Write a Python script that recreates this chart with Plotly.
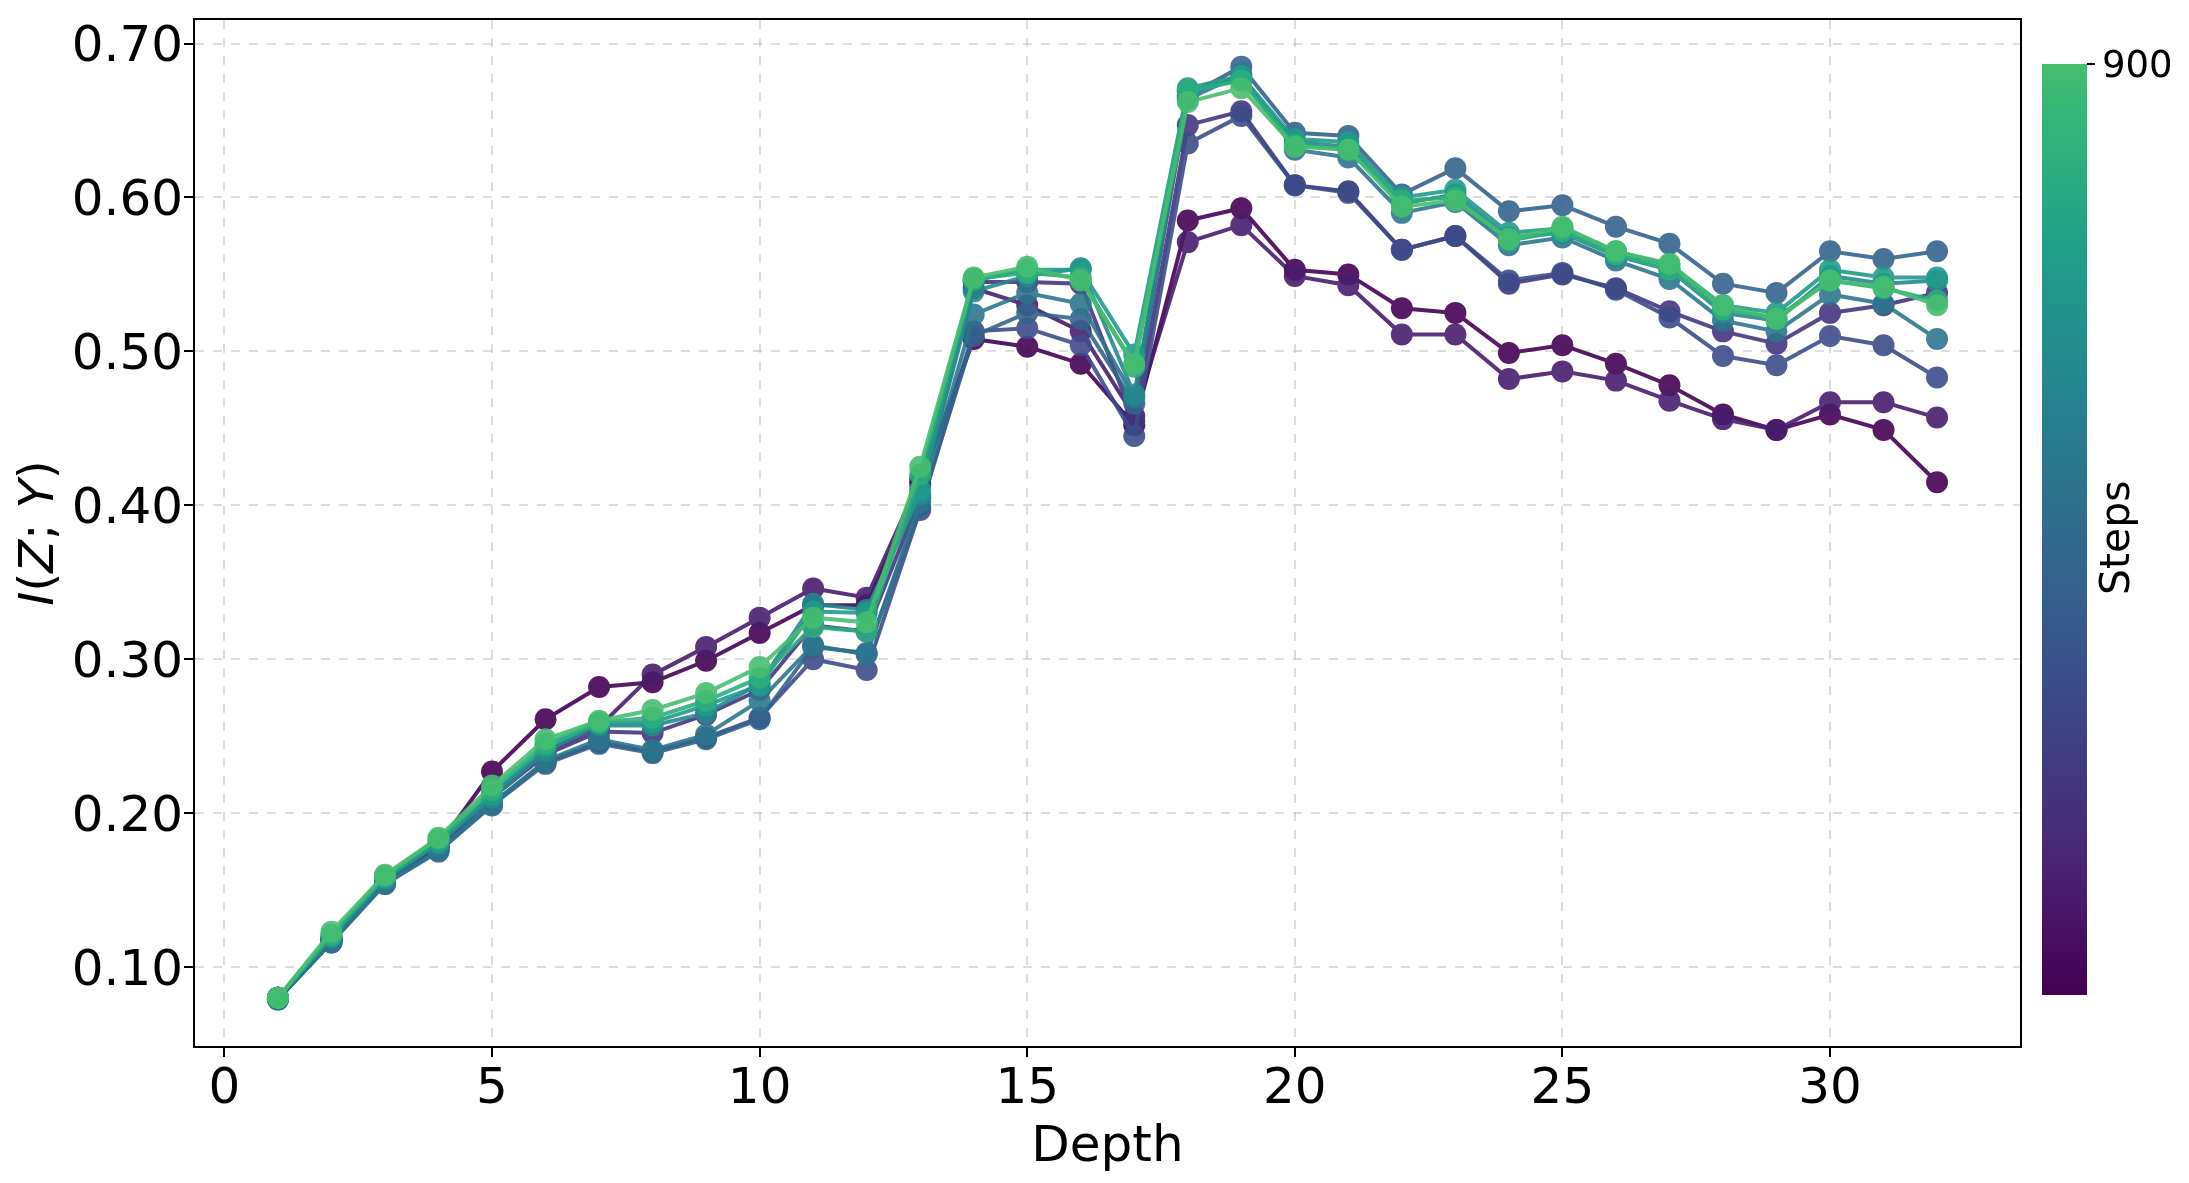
import plotly.graph_objects as go
from plotly.colors import sample_colorscale

depth = list(range(1, 33))
steps = [0, 100, 200, 300, 400, 500, 600, 700, 800, 900]

mi_step0 = [0.080, 0.118, 0.156, 0.179, 0.227, 0.261, 0.282, 0.285, 0.299, 0.317, 0.335, 0.335, 0.414, 0.508, 0.503, 0.492,
            0.452, 0.585, 0.593, 0.553, 0.550, 0.528, 0.525, 0.499, 0.504, 0.492, 0.478, 0.459, 0.449, 0.459, 0.449, 0.415]
mi_step100 = [0.080, 0.118, 0.156, 0.178, 0.212, 0.240, 0.256, 0.290, 0.308, 0.327, 0.346, 0.340, 0.417, 0.541, 0.530, 0.513,
              0.458, 0.571, 0.582, 0.549, 0.543, 0.511, 0.511, 0.482, 0.487, 0.481, 0.468, 0.456, 0.449, 0.467, 0.467, 0.457]
mi_step200 = [0.080, 0.118, 0.156, 0.178, 0.210, 0.238, 0.253, 0.252, 0.264, 0.280, 0.322, 0.318, 0.405, 0.545, 0.545, 0.544,
              0.455, 0.647, 0.656, 0.608, 0.604, 0.566, 0.575, 0.544, 0.550, 0.541, 0.526, 0.513, 0.505, 0.525, 0.530, 0.538]
mi_step300 = [0.079, 0.117, 0.155, 0.176, 0.206, 0.233, 0.246, 0.240, 0.249, 0.262, 0.300, 0.293, 0.397, 0.513, 0.515, 0.504,
              0.445, 0.635, 0.653, 0.608, 0.603, 0.566, 0.575, 0.546, 0.551, 0.540, 0.522, 0.497, 0.491, 0.510, 0.504, 0.483]
mi_step400 = [0.079, 0.116, 0.154, 0.175, 0.205, 0.232, 0.245, 0.239, 0.248, 0.261, 0.308, 0.304, 0.399, 0.510, 0.525, 0.521,
              0.466, 0.666, 0.685, 0.642, 0.640, 0.602, 0.619, 0.591, 0.595, 0.581, 0.570, 0.544, 0.538, 0.565, 0.560, 0.565]
mi_step500 = [0.079, 0.116, 0.154, 0.176, 0.206, 0.234, 0.248, 0.241, 0.251, 0.273, 0.309, 0.303, 0.402, 0.524, 0.538, 0.531,
              0.470, 0.664, 0.680, 0.631, 0.626, 0.590, 0.597, 0.569, 0.574, 0.559, 0.547, 0.520, 0.513, 0.537, 0.531, 0.508]
mi_step600 = [0.080, 0.119, 0.157, 0.180, 0.210, 0.240, 0.257, 0.257, 0.265, 0.284, 0.336, 0.332, 0.407, 0.539, 0.549, 0.554,
              0.472, 0.669, 0.677, 0.636, 0.633, 0.596, 0.602, 0.574, 0.577, 0.562, 0.553, 0.525, 0.520, 0.549, 0.544, 0.546]
mi_step700 = [0.080, 0.120, 0.158, 0.181, 0.212, 0.243, 0.258, 0.259, 0.270, 0.283, 0.331, 0.330, 0.410, 0.546, 0.553, 0.553,
              0.498, 0.671, 0.679, 0.638, 0.636, 0.600, 0.605, 0.577, 0.580, 0.565, 0.556, 0.530, 0.525, 0.553, 0.548, 0.548]
mi_step800 = [0.080, 0.121, 0.159, 0.183, 0.215, 0.245, 0.259, 0.262, 0.273, 0.288, 0.321, 0.318, 0.420, 0.547, 0.551, 0.548,
              0.490, 0.669, 0.676, 0.634, 0.631, 0.598, 0.600, 0.572, 0.578, 0.563, 0.553, 0.527, 0.522, 0.546, 0.541, 0.533]
mi_step900 = [0.080, 0.123, 0.160, 0.184, 0.218, 0.248, 0.260, 0.267, 0.278, 0.295, 0.327, 0.324, 0.425, 0.548, 0.555, 0.546,
              0.492, 0.662, 0.671, 0.633, 0.631, 0.594, 0.598, 0.573, 0.581, 0.565, 0.557, 0.530, 0.521, 0.546, 0.542, 0.530]

series = [mi_step0, mi_step100, mi_step200, mi_step300, mi_step400,
          mi_step500, mi_step600, mi_step700, mi_step800, mi_step900]

xticks = [0, 5, 10, 15, 20, 25, 30]
yticks = [0.1, 0.2, 0.3, 0.4, 0.5, 0.6, 0.7]

CMAX_FRAC = 0.7
FONT = "DejaVu Sans"

def step_color(s):
    return sample_colorscale("Viridis", [s / max(steps) * CMAX_FRAC])[0]

fig = go.Figure()
for s, vals in zip(steps, series):
    c = step_color(s)
    fig.add_trace(go.Scatter(
        x=depth, y=vals, mode="lines+markers",
        line=dict(color=c, width=4), marker=dict(color=c, size=22),
        opacity=0.9, showlegend=False, name=f"Step {s}"))

# colorbar
cs_pts = [i / 20 for i in range(21)]
cscale = [[p, sample_colorscale("Viridis", [p * CMAX_FRAC])[0]] for p in cs_pts]
fig.add_trace(go.Scatter(
    x=[depth[0], depth[0]], y=[mi_step0[0], mi_step0[0]], mode="markers",
    marker=dict(color=[min(steps), max(steps)], colorscale=cscale, cmin=min(steps), cmax=max(steps),
                opacity=0, size=1, showscale=True,
                colorbar=dict(thickness=45, len=0.907, lenmode="fraction", y=0.503, yanchor="middle",
                              x=1.0121, xanchor="left", outlinewidth=0, xpad=0, ypad=0,
                              tickvals=[900], ticktext=["900"], ticks="outside", ticklen=8,
                              tickcolor="black", tickwidth=2,
                              tickfont=dict(family=FONT, size=37, color="black"))),
    hoverinfo="skip", showlegend=False))

axis_common = dict(showline=True, linecolor="black", linewidth=2, mirror=True,
                   ticks="outside", ticklen=9, tickwidth=2, tickcolor="black",
                   showgrid=True, gridcolor="rgba(180,180,180,0.45)", griddash="dash", gridwidth=1.5,
                   zeroline=False, tickfont=dict(family=FONT, size=50, color="black"))

fig.update_xaxes(range=[-0.55, 33.55], tickvals=xticks, ticktext=[str(v) for v in xticks],
                 ticklabelstandoff=-14,
                 title=dict(text="Depth", font=dict(family=FONT, size=50, color="black"), standoff=0),
                 **axis_common)
fig.update_yaxes(range=[0.0487, 0.7153], tickvals=yticks, ticktext=[f"{v:.2f}" for v in yticks],
                 ticklabelstandoff=-9,
                 title=dict(text="<i>I</i>(<i>Z</i>; <i>Y</i>)", font=dict(family=FONT, size=48, color="black"),
                            standoff=14),
                 **axis_common)

fig.add_annotation(text="Steps", xref="paper", yref="paper", x=1.052, y=0.496, textangle=-90,
                   showarrow=False, xanchor="center", yanchor="middle",
                   font=dict(family=FONT, size=41, color="black"))

fig.update_layout(width=2189, height=1183, plot_bgcolor="white", paper_bgcolor="white",
                  margin=dict(l=187, r=177, t=7, b=145), font=dict(family=FONT, color="black"))

fig.write_html("out.html")
